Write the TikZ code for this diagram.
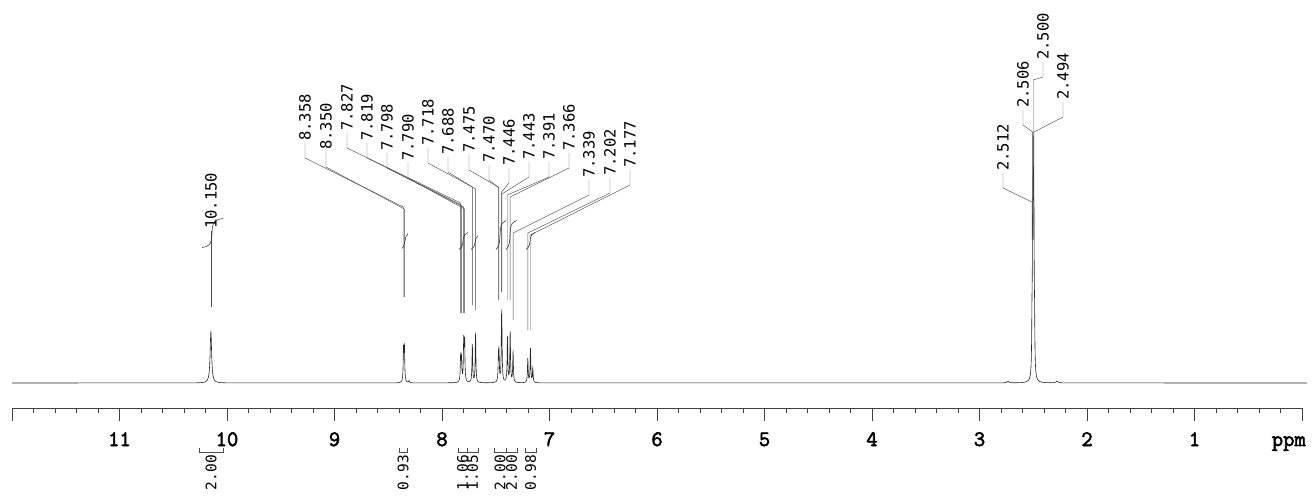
\documentclass[tikz,border=0pt]{standalone}
\usepackage{fontspec}
\usepackage{tikz}
\newfontfamily\peakfont{DejaVu Sans Mono}
\newfontfamily\axisfont{Latin Modern Mono}[AutoFakeBold=2.5]

\tikzset{
  spec/.style={black!85,line width=0.6pt},
  leader/.style={black!70,line width=0.45pt},
  intg/.style={black!85,line width=0.5pt},
  axis/.style={black!75,line width=0.6pt},
  plabel/.style={rotate=90,anchor=west,inner sep=1pt,font=\peakfont\fontsize{15.5}{16}\selectfont},
  ilabel/.style={rotate=90,anchor=east,inner sep=1pt,font=\peakfont\fontsize{14.5}{15}\selectfont},
  tlabel/.style={anchor=base,inner sep=0pt,font=\axisfont\bfseries\fontsize{22}{22}\selectfont}
}

\begin{document}
\begin{tikzpicture}[x=1pt,y=-1pt,
  declare function={
    lor(\x,\c,\h,\w)=\h*\w*\w/(\w*\w+(\x-\c)*(\x-\c));
    specA(\x)=lor(\x,210.88,51,0.9);
    specB(\x)=lor(\x,403.52,32,0.4)+lor(\x,404.38,34,0.4)+lor(\x,409,2,0.6);
    specC(\x)=lor(\x,460.60,24,0.4)+lor(\x,461.46,22,0.4)+lor(\x,463.72,40,0.4)
      +lor(\x,464.58,38,0.4)+lor(\x,472.32,38,0.4)+lor(\x,475.54,48,0.4)
      +lor(\x,498.44,22,0.4)+lor(\x,498.98,25,0.4)+lor(\x,501.56,52,0.4)
      +lor(\x,501.88,28,0.4)+lor(\x,507.47,45,0.4)+lor(\x,510.16,50,0.4)
      +lor(\x,513.06,30,0.4)+lor(\x,527.79,24,0.4)+lor(\x,530.47,34,0.4)
      +lor(\x,532.8,14,0.4);
    specD(\x)=lor(\x,1031.96,40,0.35)+lor(\x,1032.61,120,0.35)+lor(\x,1033.25,190,0.35)
      +lor(\x,1033.90,120,0.35)+lor(\x,1034.54,40,0.35)
      +lor(\x,1008,1.5,1.5)+lor(\x,1057,1.5,1.5);
  }]
  \useasboundingbox (0,0) rectangle (1313,496);

  % spectrum
  \draw[spec] (12,383) -- plot[domain=195:228,samples=331] (\x,{383-specA(\x)})
    -- plot[domain=395:415,samples=201] (\x,{383-specB(\x)})
    -- plot[domain=452:540,samples=881] (\x,{383-specC(\x)})
    -- plot[domain=1000:1066,samples=661] (\x,{383-specD(\x)})
    -- (1307,383);

  % peak labels
  \foreach \ppm/\lx/\kn/\jn/\dr in {10.150/210.88/246/246/307,
      8.358/305/158/207/297, 8.350/326/167/209/297,
      7.827/347/148/203/313, 7.819/367/158/205/313, 7.798/387/168/207/313,
      7.790/408/178/209/313, 7.718/428/163/187/305, 7.688/448/172/189/310,
      7.475/469/170/187/300, 7.470/489/180/188/300, 7.446/509/183/192/292,
      7.443/529/177/194/292, 7.391/549/177/195/300, 7.366/569/168/197/300,
      7.339/589/195/233/320, 7.202/610/193/233/330, 7.177/630/185/235/330,
      2.512/1003/188/202/240, 2.506/1023/125/132/240,
      2.500/1043/77/80/240, 2.494/1063/117/132/240} {
    \pgfmathsetmacro{\px}{1302-107.5*\ppm}
    \draw[leader] (\lx,\kn-15) -- (\lx,\kn) -- (\px,\jn) -- (\px,\dr);
    \node[plabel] at (\lx,\kn-16) {\ppm};
  }

  % integral curves
  \foreach \a/\m/\b/\yb/\r in {202/212/223/246/26, 402/405/408/247/12,
      459/463/468/248/14, 471/475/478/248/11, 496/500/506/248/26,
      506/510/517/248/26, 526/530/535/248/14}
    \draw[intg] (\a,\yb+1.5) .. controls (\m-3,\yb) and (\m-0.5,\yb) .. (\m,\yb-\r/2)
      .. controls (\m+0.5,\yb-\r) and (\m+3,\yb-\r) .. (\b,\yb-\r-1.5);

  % axis
  \draw[axis] (12,408) -- (1302,408);
  \foreach \i in {0,...,60}
    \draw[axis] ({1302-21.5*\i},408) -- ++(0,5);
  \foreach \p in {0,...,12}
    \draw[axis] ({1302-107.5*\p},408) -- ++(0,13);
  \foreach \p in {1,...,11}
    \node[tlabel] at ({1302-107.5*\p},446) {\p};
  \node[tlabel,anchor=base east] at (1306,446) {ppm};

  % integrals
  \foreach \a/\b/\v in {199/223/2.00, 399/407/0.93, 458/467/1.06, 467/478/1.05,
      494/506/2.00, 506/517/2.00, 525/536/0.98} {
    \draw[leader] (\a,448) -- (\a,452) -- (\b,452) -- (\b,448);
    \node[ilabel] at ({(\a+\b)/2},454) {\v};
  }
\end{tikzpicture}
\end{document}
